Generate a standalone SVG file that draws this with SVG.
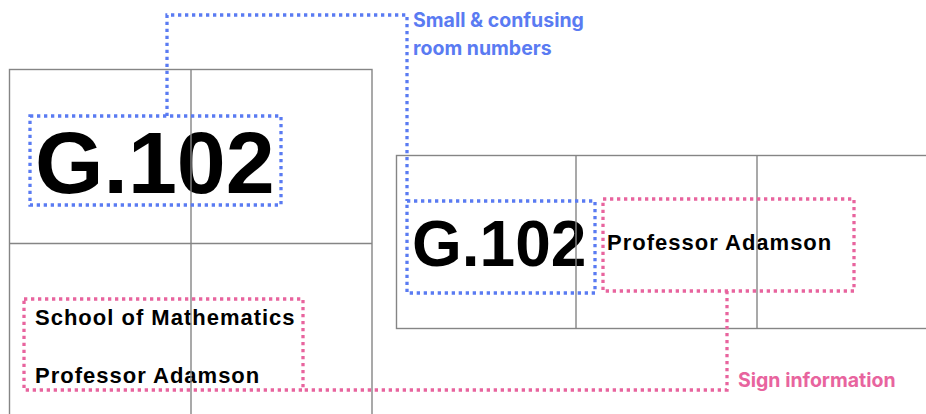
<svg xmlns="http://www.w3.org/2000/svg" width="926" height="414" viewBox="0 0 926 414">
  <style>
    .frame { fill: none; stroke: #858585; stroke-width: 1.4; }
    .sign { font-family: "Liberation Sans", Arial, sans-serif; font-weight: bold; fill: #000; }
    .small { font-size: 22px; letter-spacing: 1px; }
    .dot { fill: none; stroke-width: 3.3; stroke-dasharray: 3.3 3.7; }
    .blue { stroke: #5a7bf2; }
    .pink { stroke: #e8649e; }
    .note { font-family: Inter, "Noto Sans", sans-serif; font-weight: 700; font-size: 19.5px; }
  </style>
  <rect width="926" height="414" fill="#fff"/>

  <!-- left sign: large room number above, department and name below -->
  <g id="sign-left">
    <text class="sign" x="35" y="193" font-size="88">G.102</text>
    <text class="sign small" x="35" y="325">School of Mathematics</text>
    <text class="sign small" x="35" y="383">Professor Adamson</text>
    <rect class="frame" x="9.5" y="69.5" width="362.5" height="360"/>
    <line class="frame" x1="191" y1="69.5" x2="191" y2="414"/>
    <line class="frame" x1="9.5" y1="243.5" x2="372" y2="243.5"/>
  </g>

  <!-- right sign: room number and name side by side -->
  <g id="sign-right">
    <text class="sign" x="412" y="266" font-size="64">G.102</text>
    <text class="sign small" x="607" y="250">Professor Adamson</text>
    <rect class="frame" x="396.5" y="155.5" width="540" height="173"/>
    <line class="frame" x1="576" y1="155.5" x2="576" y2="328.5"/>
    <line class="frame" x1="757" y1="155.5" x2="757" y2="328.5"/>
  </g>

  <!-- highlight boxes -->
  <g id="box-number-left"><rect class="dot blue" x="30" y="116" width="251" height="89"/></g>
  <g id="box-number-right"><rect class="dot blue" x="407" y="201" width="188" height="92"/></g>
  <g id="box-info-left"><rect class="dot pink" x="24" y="299" width="279" height="91"/></g>
  <g id="box-info-right"><rect class="dot pink" x="603" y="199" width="251" height="92"/></g>

  <!-- connectors -->
  <g id="connectors">
    <path class="dot blue" d="M167 116 V15 H407 V201"/>
    <path class="dot pink" d="M727 291 V390 H303"/>
  </g>

  <!-- annotations -->
  <g id="label-numbers">
    <text class="note" x="413" y="27" fill="#5a7bf2">Small &amp; confusing</text>
    <text class="note" x="413" y="55" fill="#5a7bf2">room numbers</text>
  </g>
  <g id="label-info">
    <text class="note" x="738" y="387" fill="#e8649e">Sign information</text>
  </g>
</svg>
